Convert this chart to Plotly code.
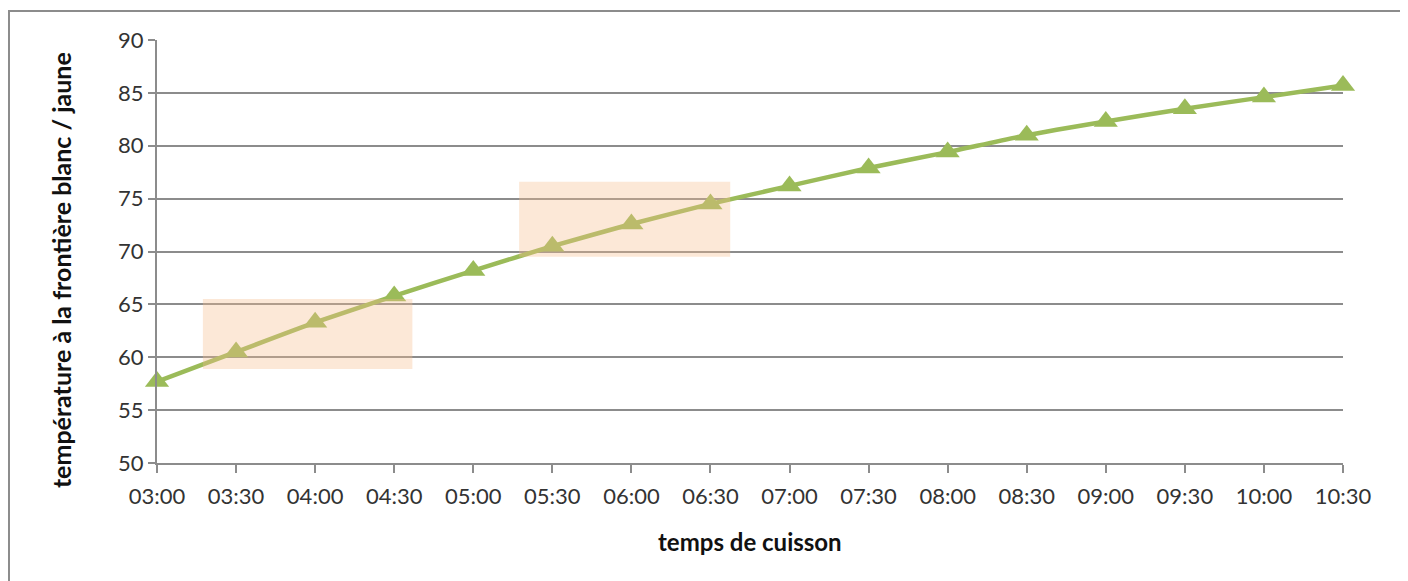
import plotly.graph_objects as go

times = ["03:00", "03:30", "04:00", "04:30", "05:00", "05:30", "06:00", "06:30",
         "07:00", "07:30", "08:00", "08:30", "09:00", "09:30", "10:00", "10:30"]
temperature = [57.7, 60.5, 63.3, 65.8, 68.2, 70.5, 72.6, 74.5,
               76.2, 77.9, 79.4, 81.0, 82.3, 83.5, 84.6, 85.7]
y_ticks = [50, 55, 60, 65, 70, 75, 80, 85, 90]
# highlighted zones: (x0 index, x1 index, y0, y1)
zones = [(0.58, 3.23, 58.9, 65.5), (4.58, 7.25, 69.5, 76.6)]

font_family = "Lato, 'Open Sans', sans-serif"

fig = go.Figure()
fig.add_trace(go.Scatter(
    x=list(range(len(times))), y=temperature, mode="lines+markers",
    line=dict(color="#9BBB59", width=4.5, shape="spline", smoothing=0.5),
    marker=dict(symbol="triangle-up", size=21, color="#9BBB59"),
    cliponaxis=False, showlegend=False,
))

for x0, x1, y0, y1 in zones:
    fig.add_shape(type="rect", xref="x", yref="y", x0=x0, x1=x1, y0=y0, y1=y1,
                  fillcolor="rgba(247,190,140,0.35)", line=dict(width=0), layer="above")

# outer frame
fig.add_shape(type="rect", xref="paper", yref="paper",
              x0=-0.1248, x1=1.0506, y0=-0.30, y1=1.0686,
              line=dict(color="#8C8C8C", width=2), fillcolor="rgba(0,0,0,0)", layer="below")

# axis titles
fig.add_annotation(text="<b>temps de cuisson</b>", xref="paper", yref="paper",
                   x=0.5, y=0, yshift=-78, xanchor="center", yanchor="middle",
                   showarrow=False, font=dict(size=24, color="#111111"))
fig.add_annotation(text="<b>température à la frontière blanc / jaune</b>", xref="paper", yref="paper",
                   x=0, y=0.456, xshift=-96, xanchor="center", yanchor="middle", textangle=-90,
                   showarrow=False, font=dict(size=25, color="#111111"))

fig.update_layout(
    width=1400, height=573,
    margin=dict(l=149, r=65, t=32, b=118),
    paper_bgcolor="white", plot_bgcolor="white",
    font=dict(family=font_family, size=21, color="#222222"),
    xaxis=dict(
        range=[0, 15], tickmode="array", tickvals=list(range(len(times))), ticktext=times,
        showgrid=False, showline=True, linecolor="#8C8C8C", linewidth=2,
        ticks="outside", ticklen=8, tickcolor="#8C8C8C", tickwidth=2,
        tickfont=dict(size=22, color="#333333"), ticklabelstandoff=5,
        zeroline=False,
    ),
    yaxis=dict(
        range=[50, 90], tickvals=y_ticks,
        showgrid=True, gridcolor="#8C8C8C", gridwidth=2,
        showline=True, linecolor="#8C8C8C", linewidth=2,
        ticks="outside", ticklen=7, tickcolor="#8C8C8C", tickwidth=2,
        tickfont=dict(size=22, color="#333333"),
        zeroline=False,
    ),
)

fig.write_html("out.html")
